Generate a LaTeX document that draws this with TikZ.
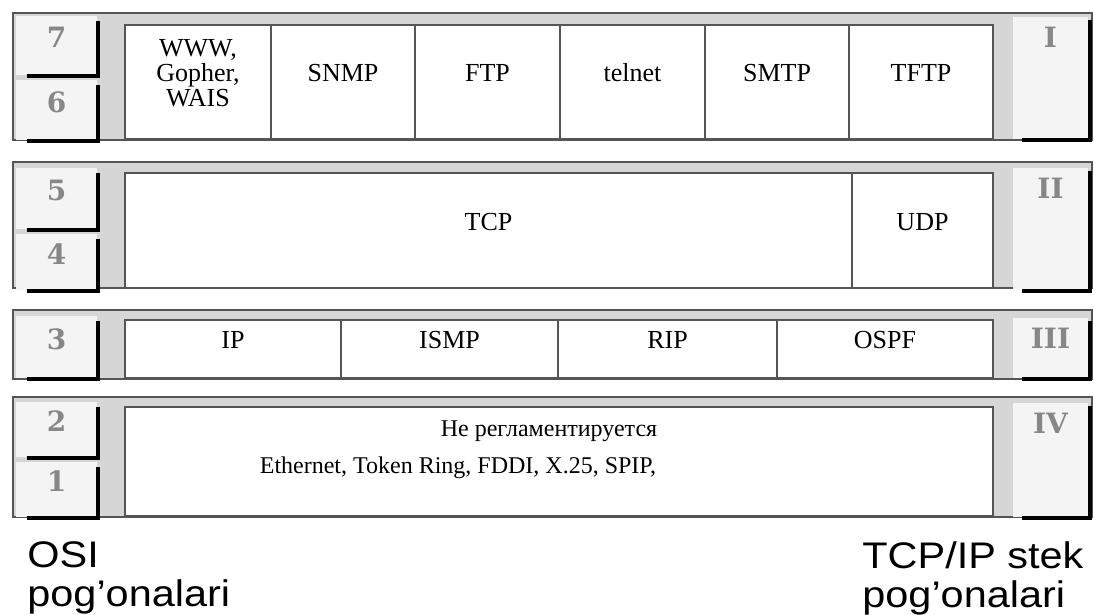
\documentclass[tikz,border=0pt]{standalone}
\usepackage{fontspec}
\setmainfont{Liberation Serif}
\newfontfamily\capfont[FakeStretch=1.12]{Liberation Sans}
\newfontfamily\numfont{DejaVu Serif}
\usetikzlibrary{fit, positioning}
\definecolor{framegray}{RGB}{214,214,214}
\definecolor{cellgray}{RGB}{244,244,244}
\definecolor{edgegray}{RGB}{85,85,85}
\definecolor{numgray}{RGB}{135,135,135}

\begin{document}
\begin{tikzpicture}[
    x=0.5pt, y=-0.5pt,
    band/.style={draw=edgegray, line width=1pt, fill=framegray},
    numcell/.style={fill=cellgray, inner sep=0pt},
    numtext/.style={inner sep=0pt, text=numgray, font=\numfont\bfseries\fontsize{14}{14}\selectfont},
    proto/.style={draw=edgegray, line width=0.9pt, fill=white, inner sep=0pt, align=center, font=\fontsize{13}{12.5}\selectfont},
    plain/.style={inner sep=0pt, font=\fontsize{12}{12}\selectfont},
    shade/.style={line width=2pt, black},
    caption/.style={inner sep=0pt, anchor=north west, align=left, font=\capfont\fontsize{18.5}{19.5}\selectfont}
]
\useasboundingbox (0,0) rectangle (1094,615);

\draw[band] (13,13) rectangle (1092,140);
\draw[band] (13,162) rectangle (1092,288);
\draw[band] (13,310) rectangle (1092,379);
\draw[band] (13,397) rectangle (1092,517);

\node[numcell, fit={(16,16) (97,75)}] (l7) {};
\node[numcell, fit={(16,80) (97,140)}] (l6) {};
\node[numcell, fit={(16,168) (97,229)}] (l5) {};
\node[numcell, fit={(16,234) (97,290)}] (l4) {};
\node[numcell, fit={(16,316) (97,378)}] (l3) {};
\node[numcell, fit={(16,402) (97,457)}] (l2) {};
\node[numcell, fit={(16,462) (97,517)}] (l1) {};

\node[numcell, fit={(1013,17) (1088,139)}] (r1) {};
\node[numcell, fit={(1013,168) (1088,290)}] (r2) {};
\node[numcell, fit={(1013,318) (1088,378)}] (r3) {};
\node[numcell, fit={(1013,403) (1088,517)}] (r4) {};

\foreach \c in {l7,l6,l5,l4,l3,l2,l1}
  \draw[shade] ([shift={(11,1)}]\c.south west) -| ([shift={(1,5)}]\c.north east);
\foreach \c in {r1,r2,r3,r4}
  \draw[shade] ([shift={(9,1)}]\c.south west) -| ([shift={(2,3)}]\c.north east);

\foreach \c/\t in {l7/7,l6/6,l5/5,l4/4,l3/3,l2/2,l1/1}
  \node[numtext] at ([yshift=4pt]\c.center) {\t};
\foreach \c/\t in {r1/I,r2/II,r3/III,r4/IV}
  \node[numtext, below=5pt of \c.north] {\t};

\node[proto, fit={(125,25) (271,139)}] (www) {WWW,\\Gopher,\\WAIS};
\node[proto, fit={(271,25) (415,139)}] (snmp) {SNMP};
\node[proto, fit={(415,25) (560,139)}] (ftp) {FTP};
\node[proto, fit={(560,25) (705,139)}] (telnet) {telnet};
\node[proto, fit={(705,25) (849,139)}] (smtp) {SMTP};
\node[proto, fit={(849,25) (993,139)}] (tftp) {TFTP};

\node[proto, fit={(125,173) (852,288)}] (tcp) {TCP};
\node[proto, fit={(852,173) (993,288)}] (udp) {UDP};

\node[proto, fit={(125,320) (341,378)}] (ip) {IP};
\node[proto, fit={(341,320) (558,378)}] (ismp) {ISMP};
\node[proto, fit={(558,320) (777,378)}] (rip) {RIP};
\node[proto, fit={(777,320) (993,378)}] (ospf) {OSPF};

\node[proto, fit={(125,407) (993,516)}] (phys) {};
\node[plain] (reglam) at (549,431) {Не регламентируется};
\node[plain] (nets) at (458,468) {Ethernet, Token Ring, FDDI, X.25, SPIP,};

\node[caption] (osi) at (27,541) {OSI\\pog’onalari};
\node[caption] (stek) at (862,541) {TCP/IP stek\\pog’onalari};

\end{tikzpicture}
\end{document}
